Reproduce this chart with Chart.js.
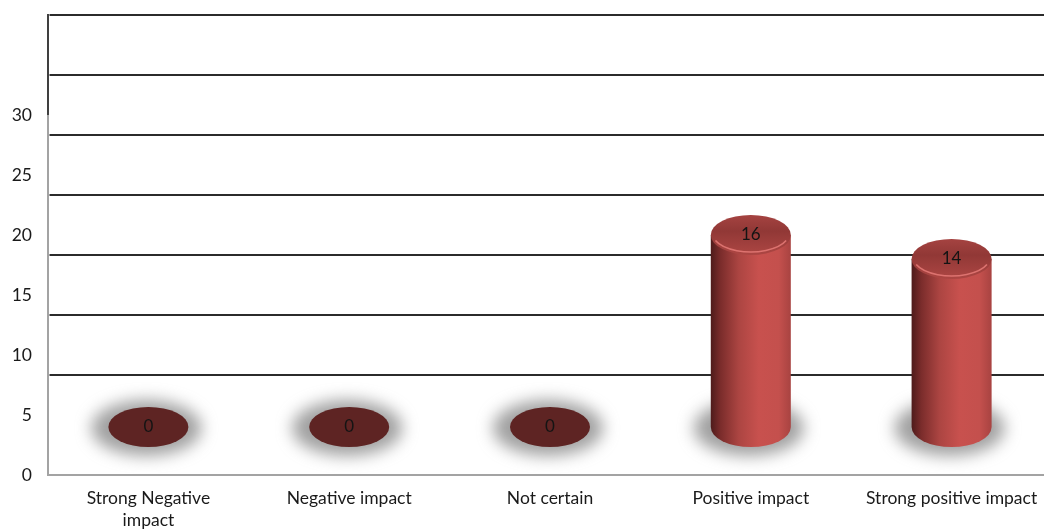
<!DOCTYPE html>
<html>
<head>
<meta charset="utf-8">
<script src="https://cdn.jsdelivr.net/npm/chart.js@4.4.1/dist/chart.umd.min.js"></script>
<style>
  html, body { margin: 0; padding: 0; background: #ffffff; overflow: hidden; }
  #wrap { width: 1044px; height: 529px; overflow: hidden; position: relative; }
  #box { width: 1052px; height: 529px; position: absolute; left: 0; top: 0; }
</style>
</head>
<body>
<div id="wrap"><div id="box"><canvas id="c"></canvas></div></div>
<script>
// Survey answers per impact category
const categories = [['Strong Negative', 'impact'], 'Negative impact', 'Not certain', 'Positive impact', 'Strong positive impact'];
const responses = [0, 0, 0, 16, 14];
const tickValues = [0, 5, 10, 15, 20, 25, 30];
const gridValues = [5, 10, 15, 20, 25, 30, 35];

// 3D look: the cylinder floor and the back wall sit above the axis origin
const FLOOR = 4.0;
const WALL = 3.33;
const RY = 20;
const FONT = 'Lato, "Open Sans", sans-serif';

const cylinderPlugin = {
  id: 'cylinders',
  beforeDatasetsDraw(chart) {
    const { ctx, chartArea: a, scales: { y } } = chart;
    ctx.save();
    // back wall grid lines
    ctx.strokeStyle = '#2b2b2b';
    ctx.lineWidth = 1.8;
    gridValues.forEach(v => {
      const py = Math.round(y.getPixelForValue(v + WALL));
      ctx.beginPath();
      ctx.moveTo(a.left + 1.5, py);
      ctx.lineTo(a.right, py);
      ctx.stroke();
    });
    // wall edge and floor edge
    const p30 = y.getPixelForValue(30);
    ctx.beginPath();
    ctx.moveTo(a.left, a.top - 0.9);
    ctx.lineTo(a.left, p30);
    ctx.stroke();
    ctx.strokeStyle = '#a3a3a3';
    ctx.lineWidth = 2;
    ctx.beginPath();
    ctx.moveTo(a.left, p30);
    ctx.lineTo(a.left, a.bottom);
    ctx.lineTo(a.right, a.bottom);
    ctx.stroke();
    // soft floor shadows under each cylinder
    chart.getDatasetMeta(0).data.forEach(bar => {
      ctx.save();
      ctx.filter = 'blur(8px)';
      ctx.fillStyle = 'rgba(120,120,120,0.7)';
      ctx.beginPath();
      ctx.ellipse(bar.x - 2, bar.base + 1, bar.width / 2 + 15, RY + 8, 0, 0, Math.PI * 2);
      ctx.fill();
      ctx.restore();
    });
    ctx.restore();
  },
  afterDatasetsDraw(chart) {
    const { ctx } = chart;
    ctx.save();
    chart.getDatasetMeta(0).data.forEach((bar, i) => {
      const cx = bar.x, rx = bar.width / 2, top = bar.y, bot = bar.base;
      if (bot - top < 0.5) {
        ctx.fillStyle = '#5e2423';
        ctx.beginPath();
        ctx.ellipse(cx, top, rx, RY, 0, 0, Math.PI * 2);
        ctx.fill();
      } else {
        // cylinder body
        const g = ctx.createLinearGradient(cx - rx, 0, cx + rx, 0);
        g.addColorStop(0, '#4e1b1b');
        g.addColorStop(0.12, '#7a2c2b');
        g.addColorStop(0.35, '#ac4542');
        g.addColorStop(0.6, '#c8514e');
        g.addColorStop(0.85, '#c4504d');
        g.addColorStop(1, '#a84341');
        ctx.fillStyle = g;
        ctx.beginPath();
        ctx.moveTo(cx - rx, top);
        ctx.lineTo(cx - rx, bot);
        ctx.ellipse(cx, bot, rx, RY, 0, Math.PI, 0, true);
        ctx.lineTo(cx + rx, top);
        ctx.closePath();
        ctx.fill();
        // top cap
        const tg = ctx.createLinearGradient(0, top - RY, 0, top + RY);
        tg.addColorStop(0, '#a54341');
        tg.addColorStop(0.4, '#913836');
        tg.addColorStop(1, '#ad4643');
        ctx.fillStyle = tg;
        ctx.beginPath();
        ctx.ellipse(cx, top, rx, RY, 0, 0, Math.PI * 2);
        ctx.fill();
        ctx.strokeStyle = 'rgba(226,120,116,0.9)';
        ctx.lineWidth = 1.6;
        ctx.beginPath();
        ctx.ellipse(cx, top - 1, rx - 2, RY - 2, 0, 0.12 * Math.PI, 0.88 * Math.PI);
        ctx.stroke();
      }
      // value label on the cap
      ctx.fillStyle = '#141414';
      ctx.font = '17px ' + FONT;
      ctx.textAlign = 'center';
      ctx.textBaseline = 'middle';
      ctx.fillText(String(responses[i]), cx, top);
    });
    ctx.restore();
  }
};

new Chart(document.getElementById('c'), {
  type: 'bar',
  data: {
    labels: categories,
    datasets: [{
      data: responses.map(v => [FLOOR, FLOOR + v]),
      backgroundColor: 'rgba(0,0,0,0)',
      borderWidth: 0,
      barPercentage: 0.3985,
      categoryPercentage: 1
    }]
  },
  options: {
    responsive: true,
    maintainAspectRatio: false,
    animation: false,
    layout: { padding: { top: 15, left: 0, right: 0, bottom: 0 } },
    plugins: { legend: { display: false }, tooltip: { enabled: false } },
    scales: {
      x: {
        grid: { display: false, drawTicks: false },
        border: { display: false },
        ticks: {
          color: '#1a1a1a',
          font: { family: FONT, size: 17.5, lineHeight: 1.257 },
          padding: 12,
          maxRotation: 0,
          autoSkip: false
        },
        afterFit(s) { s.height = 54; s.paddingLeft = 0; s.paddingRight = 0; }
      },
      y: {
        min: 0,
        max: 38.33,
        grid: { display: false, drawTicks: false },
        border: { display: false },
        ticks: {
          stepSize: 5,
          color: '#1a1a1a',
          font: { family: FONT, size: 17.5 },
          padding: 16,
          callback: v => (tickValues.includes(v) ? String(v) : '')
        },
        afterFit(s) { s.width = 48; s.paddingTop = 0; s.paddingBottom = 0; }
      }
    }
  },
  plugins: [cylinderPlugin]
});
</script>
</body>
</html>
